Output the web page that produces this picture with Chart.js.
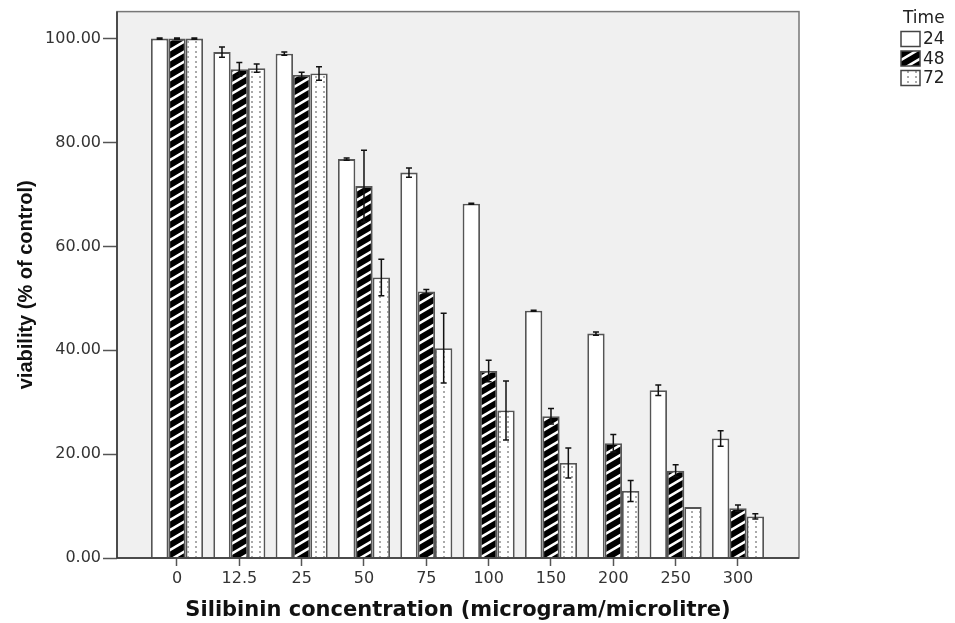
<!DOCTYPE html>
<html>
<head>
<meta charset="utf-8">
<script src="https://cdn.jsdelivr.net/npm/chart.js@4"></script>
<style>
  body { margin: 0; background: #fff; }
  canvas { display: block; }
</style>
</head>
<body>
<canvas id="my-chart" width="955" height="623"></canvas>
<script>
// values
const concentrations = ['0', '12.5', '25', '50', '75', '100', '150', '200', '250', '300'];
const seriesNames = ['24', '48', '72'];
const via24 = [100, 97.4, 97.1, 76.8, 74.2, 68.2, 47.6, 43.2, 32.3, 23.0];
const via48 = [100, 94.1, 93.0, 71.6, 51.3, 36.0, 27.3, 22.1, 16.8, 9.6];
const via72 = [100, 94.3, 93.3, 54.0, 40.4, 28.4, 18.3, 12.9, 9.8, 8.0];
const err24 = [0.1, 1.0, 0.3, 0.2, 0.9, 0.1, 0.1, 0.3, 1.0, 1.5];
const err48 = [0.1, 1.3, 0.5, 6.9, 0.4, 2.05, 1.5, 1.7, 1.15, 0.6];
const err72 = [0.1, 0.8, 1.3, 3.5, 6.7, 5.7, 2.9, 2.0, 0, 0.5];
const yTicks = [0, 20, 40, 60, 80, 100];

// fill patterns
function makeHatch() {
    const w = 17, h = 10;
    const c = document.createElement('canvas');
    c.width = w; c.height = h;
    const g = c.getContext('2d');
    g.fillStyle = '#000';
    g.fillRect(0, 0, w, h);
    g.strokeStyle = '#fff';
    g.lineWidth = 2.6;
    for (let k = -1; k <= 3; k++) {
        g.beginPath();
        g.moveTo(-w, k * h + h);
        g.lineTo(2 * w, k * h - 2 * h);
        g.stroke();
    }
    return g.createPattern(c, 'repeat');
}

function makeDots() {
    const c = document.createElement('canvas');
    c.width = 8; c.height = 5;
    const g = c.getContext('2d');
    g.fillStyle = '#fff';
    g.fillRect(0, 0, 8, 5);
    g.fillStyle = '#aaa';
    g.fillRect(3, 1, 2, 2);
    return g.createPattern(c, 'repeat');
}

const fills = ['#ffffff', makeHatch(), makeDots()];
const values = [via24, via48, via72];
const errors = [err24, err48, err72];

const plotBox = {
    id: 'plotBox',
    beforeDraw(chart) {
        const a = chart.chartArea, ctx = chart.ctx;
        ctx.save();
        ctx.fillStyle = '#f0f0f0';
        ctx.fillRect(a.left, a.top, a.right - a.left, a.bottom - a.top);
        ctx.restore();
    },
    afterDatasetsDraw(chart) {
        const a = chart.chartArea, ctx = chart.ctx;
        ctx.save();
        ctx.lineWidth = 1.5;
        ctx.strokeStyle = '#777';
        ctx.strokeRect(a.left, a.top, a.right - a.left, a.bottom - a.top);
        ctx.strokeStyle = '#333';
        ctx.beginPath();
        ctx.moveTo(a.left, a.top);
        ctx.lineTo(a.left, a.bottom);
        ctx.lineTo(a.right, a.bottom);
        ctx.stroke();
        ctx.restore();
    }
};

const errorBars = {
    id: 'errorBars',
    afterDatasetsDraw(chart) {
        const ctx = chart.ctx, y = chart.scales.y;
        ctx.save();
        ctx.strokeStyle = '#111';
        ctx.lineWidth = 1.5;
        chart.data.datasets.forEach((ds, i) => {
            chart.getDatasetMeta(i).data.forEach((bar, j) => {
                const v = values[i][j], e = errors[i][j];
                if (!e) return;
                const top = y.getPixelForValue(v + e);
                const bot = y.getPixelForValue(v - e);
                ctx.beginPath();
                ctx.moveTo(bar.x, top); ctx.lineTo(bar.x, bot);
                ctx.moveTo(bar.x - 3, top); ctx.lineTo(bar.x + 3, top);
                ctx.moveTo(bar.x - 3, bot); ctx.lineTo(bar.x + 3, bot);
                ctx.stroke();
            });
        });
        ctx.restore();
    }
};

const sideLegend = {
    id: 'sideLegend',
    afterDraw(chart) {
        const ctx = chart.ctx;
        ctx.save();
        ctx.font = '17px "DejaVu Sans"';
        ctx.fillStyle = '#222';
        ctx.textBaseline = 'middle';
        ctx.textAlign = 'left';
        ctx.fillText('Time', 903, 19);
        seriesNames.forEach((name, i) => {
            const cy = 39 + i * 19.5;
            ctx.fillStyle = fills[i];
            ctx.fillRect(901, cy - 7.5, 19, 15);
            ctx.strokeStyle = '#444';
            ctx.lineWidth = 1.5;
            ctx.strokeRect(901, cy - 7.5, 19, 15);
            ctx.fillStyle = '#222';
            ctx.fillText(name, 923, cy + 1);
        });
        ctx.restore();
    }
};

const canvas = document.getElementById('my-chart').getContext('2d');
new Chart(canvas, {
    type: 'bar',
    data: {
        datasets: seriesNames.map((name, i) => ({
            label: name,
            data: values[i].map((v, j) => ({ x: j, y: v })),
            backgroundColor: fills[i],
            borderColor: '#555',
            borderWidth: 1.8,
            categoryPercentage: 0.835,
            barPercentage: 1.0
        }))
    },
    options: {
        responsive: false,
        animation: false,
        devicePixelRatio: 1,
        layout: { padding: { top: 9, right: 156, left: 0, bottom: 0 } },
        plugins: { legend: { display: false }, tooltip: { enabled: false } },
        scales: {
            x: {
                type: 'linear',
                offset: false,
                min: -0.9626,
                max: 9.979,
                afterBuildTicks: s => { s.ticks = concentrations.map((c, i) => ({ value: i })); },
                afterFit: s => { s.height = 65; },
                ticks: {
                    callback: v => concentrations[v],
                    font: { family: 'DejaVu Sans', size: 16 },
                    color: '#333',
                    padding: 3,
                    maxRotation: 0,
                    autoSkip: false
                },
                grid: { offset: false, drawOnChartArea: false, tickLength: 8, color: '#555', tickWidth: 1.5 },
                border: { display: false },
                title: {
                    display: true,
                    text: 'Silibinin concentration (microgram/microlitre)',
                    font: { family: 'DejaVu Sans', size: 21, weight: 'bold' },
                    color: '#111',
                    padding: { top: 0, bottom: 0 }
                }
            },
            y: {
                min: 0,
                max: 105.2,
                afterBuildTicks: s => { s.ticks = yTicks.map(v => ({ value: v })); },
                afterFit: s => { s.width = 117; },
                ticks: {
                    callback: v => v.toFixed(2),
                    font: { family: 'DejaVu Sans', size: 16 },
                    color: '#333',
                    padding: 2
                },
                grid: { drawOnChartArea: false, tickLength: 14, color: '#555', tickWidth: 1.5 },
                border: { display: false },
                title: {
                    display: true,
                    text: 'viability (% of control)',
                    font: { family: 'Liberation Sans', size: 20, weight: 'bold' },
                    color: '#111',
                    padding: { top: 14, bottom: 0 }
                }
            }
        }
    },
    plugins: [plotBox, errorBars, sideLegend]
});
</script>
</body>
</html>
